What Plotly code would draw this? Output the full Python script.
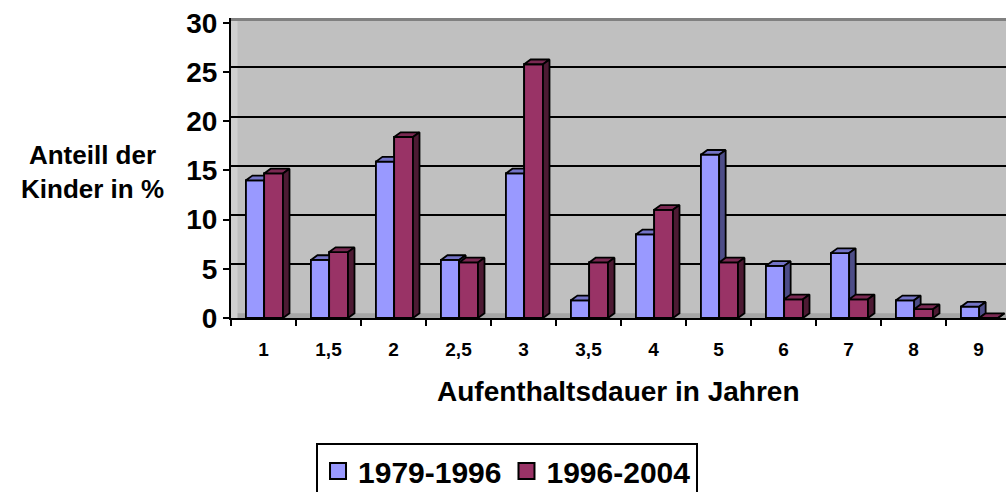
import plotly.graph_objects as go

# ---------------- data ----------------
categories = ["1", "1,5", "2", "2,5", "3", "3,5", "4", "5", "6", "7", "8", "9"]
series_names = ["1979-1996", "1996-2004"]
v_1979_1996 = [14.0, 5.9, 15.9, 5.9, 14.7, 1.8, 8.5, 16.6, 5.3, 6.6, 1.8, 1.15]
v_1996_2004 = [14.7, 6.7, 18.4, 5.65, 25.8, 5.65, 11.0, 5.65, 1.9, 1.9, 0.9, 0.0]
y_ticks = [0, 5, 10, 15, 20, 25, 30]

# ---------------- style ----------------
FONT = "Liberation Sans, Arial, sans-serif"
front_cols = ["#9999FF", "#993366"]
top_cols = ["#7373C6", "#7A2952"]
side_cols = ["#4D4D88", "#4D1A33"]
offsets = [-0.27, 0.01]
widths = [0.28, 0.29]
DX = 0.10    # 3D depth, x (category units)
DY = 0.48    # 3D depth, y (value units)
Y_MAX = 30.5
EDGE = 1.8

xpos = list(range(len(categories)))
series = [v_1979_1996, v_1996_2004]

fig = go.Figure()

# plain bars (covered by 3D faces below, keep axis/scale semantics)
for k, vals in enumerate(series):
    fig.add_trace(go.Bar(
        x=xpos, y=vals, offset=offsets[k], width=widths[k],
        marker=dict(color=front_cols[k], line=dict(color="black", width=EDGE)),
        showlegend=False, hoverinfo="skip"))


def faces(vals, off, w):
    fx, fy, tx, ty, sx, sy = [], [], [], [], [], []
    for i, v in zip(xpos, vals):
        x0 = i + off
        x1 = x0 + w
        fx += [x0, x1, x1, x0, x0, None]
        fy += [0, 0, v, v, 0, None]
        tx += [x0, x0 + DX, x1 + DX, x1, x0, None]
        ty += [v, v + DY, v + DY, v, v, None]
        sx += [x1, x1 + DX, x1 + DX, x1, x1, None]
        sy += [0, DY, v + DY, v, 0, None]
    return (fx, fy), (tx, ty), (sx, sy)


for k, vals in enumerate(series):
    front, top, side = faces(vals, offsets[k], widths[k])
    for (px, py), col in [(front, front_cols[k]), (top, top_cols[k]), (side, side_cols[k])]:
        fig.add_trace(go.Scatter(
            x=px, y=py, mode="lines", fill="toself", fillcolor=col,
            line=dict(color="black", width=EDGE), showlegend=False,
            hoverinfo="skip"))

# legend entries
for k, name in enumerate(series_names):
    fig.add_trace(go.Scatter(
        x=[None], y=[None], mode="markers", name=name,
        marker=dict(symbol="square", size=16, color=front_cols[k],
                    line=dict(color="black", width=2))))

# helper trace so the shifted gridline axis exists
fig.add_trace(go.Scatter(x=xpos, y=v_1979_1996, yaxis="y2", mode="markers",
                         marker=dict(opacity=0), showlegend=False, hoverinfo="skip"))

x_end = -0.5 + 775 / 65

fig.update_layout(
    width=1006, height=492,
    margin=dict(l=231, r=0, t=18, b=174, autoexpand=False),
    paper_bgcolor="white", plot_bgcolor="#C0C0C0",
    barmode="overlay",
    font=dict(family=FONT, color="black"),
    xaxis=dict(
        range=[-0.5, x_end], tickmode="array", tickvals=xpos, ticktext=categories,
        ticks="", showgrid=False, zeroline=False,
        showline=True, linecolor="black", linewidth=2,
        tickfont=dict(size=19, family=FONT, weight="bold"),
        ticklabelstandoff=13,
        minor=dict(tickmode="array", tickvals=[i - 0.5 for i in xpos] + [len(xpos) - 0.5],
                   ticks="outside", ticklen=6, tickwidth=2, tickcolor="black",
                   showgrid=False),
        fixedrange=True),
    yaxis=dict(
        range=[0, Y_MAX], tickmode="array", tickvals=y_ticks,
        ticks="outside", ticklen=6, tickwidth=2, tickcolor="black",
        showline=True, linecolor="black", linewidth=2,
        showgrid=False, zeroline=False,
        tickfont=dict(size=28, family=FONT, weight="bold"),
        fixedrange=True),
    yaxis2=dict(
        overlaying="y", range=[-DY, Y_MAX - DY], tickmode="array",
        tickvals=y_ticks[1:-1], showticklabels=False, ticks="",
        showgrid=True, gridcolor="black", gridwidth=2, zeroline=False,
        showline=False, fixedrange=True),
    legend=dict(
        orientation="h", x=0.1097, y=-0.4167, xanchor="left", yanchor="top",
        bordercolor="black", borderwidth=2, bgcolor="white",
        font=dict(size=30, family=FONT, weight="bold"),
        itemclick=False, itemdoubleclick=False),
    annotations=[
        dict(text="Anteill der<br>Kinder in %", xref="paper", yref="paper",
             x=(92 - 231) / 775, y=(318 - 172) / 300, xanchor="center", yanchor="middle",
             showarrow=False, align="center",
             font=dict(size=26, family=FONT, weight="bold")),
        dict(text="Aufenthaltsdauer in Jahren", xref="paper", yref="paper",
             x=(618 - 231) / 775, y=(318 - 391) / 300, xanchor="center", yanchor="middle",
             showarrow=False, font=dict(size=28, family=FONT, weight="bold")),
    ],
    shapes=[
        # floor strip
        dict(type="rect", xref="paper", yref="y", x0=0, x1=1, y0=0, y1=DY,
             fillcolor="#A6A6A6", line=dict(width=0), layer="below"),
        # left side wall
        dict(type="rect", xref="x", yref="paper", x0=-0.5, x1=-0.5 + DX, y0=0, y1=1,
             fillcolor="#D0D0D0", line=dict(width=0), layer="below"),
        # top wall border
        dict(type="rect", xref="paper", yref="paper", x0=0, x1=1, y0=0.99, y1=1.0,
             fillcolor="#808080", line=dict(width=0), layer="below"),
    ],
)

fig.write_html(
    "out.html",
    config={"displayModeBar": False},
    post_script="document.body.style.margin='0';document.body.style.overflow='hidden';",
)
